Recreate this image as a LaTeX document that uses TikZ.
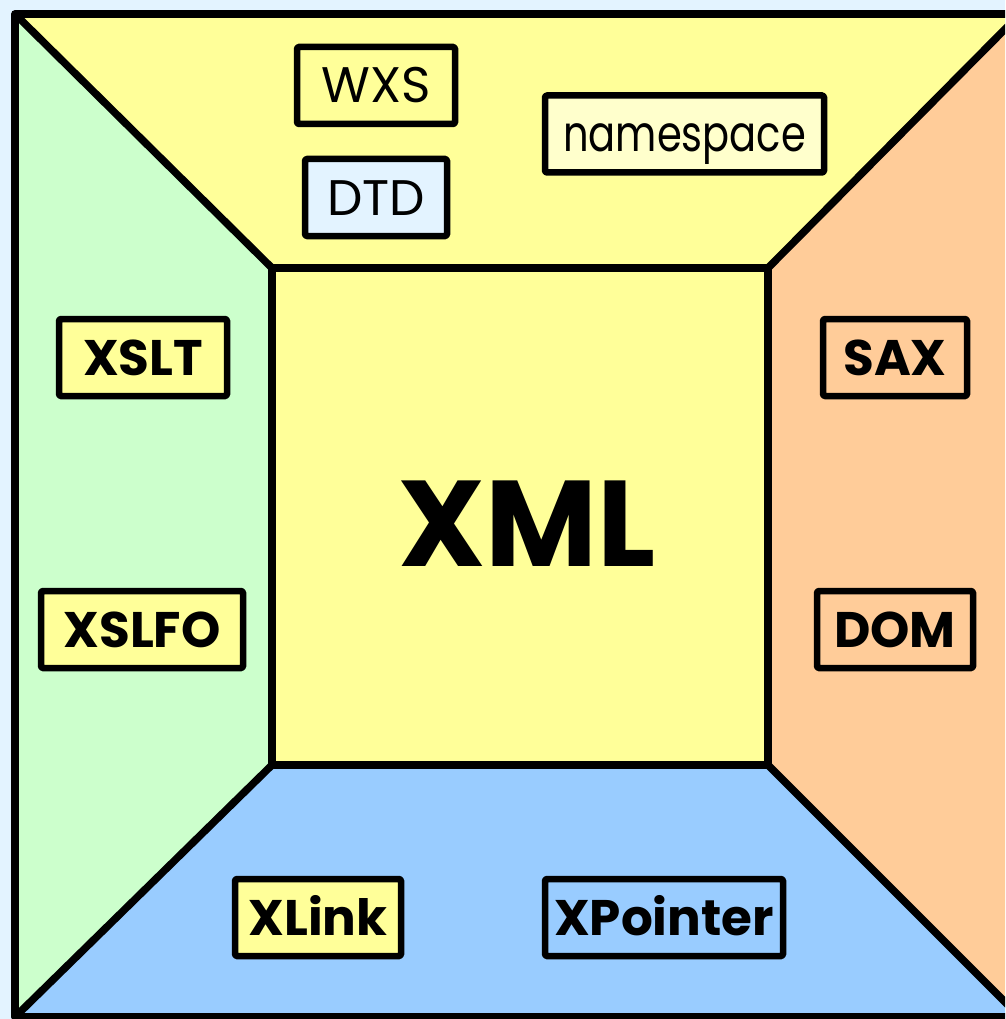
\documentclass[tikz,border=0pt]{standalone}
\usepackage{fontspec}
\setmainfont{Poppins}
\newfontfamily\nsfont[FakeStretch=0.8]{Poppins}
\definecolor{bgblue}{HTML}{E3F3FF}
\definecolor{ylw}{HTML}{FFFF99}
\definecolor{grn}{HTML}{CCFFCC}
\definecolor{org}{HTML}{FFCC99}
\definecolor{blu}{HTML}{99CCFF}
\definecolor{pale}{HTML}{FFFFCC}
\begin{document}
\begin{tikzpicture}[x=1pt,y=-1pt,line join=round,
  region/.style={draw=black,line width=7.5pt},
  tbox/.style={draw=black,line width=6.5pt,rounded corners=1.5pt,inner sep=0pt,minimum height=77pt,text height=35pt,text depth=0pt,font=\fontsize{50}{54}\selectfont},
  bbox/.style={tbox,font=\fontsize{50}{54}\selectfont\bfseries}]
\useasboundingbox (0,0) rectangle (1005,1019);
\fill[bgblue] (0,0) rectangle (1005,1019);
\clip (0,0) rectangle (1005,1019);
% corners
\coordinate (o1) at (15,14);
\coordinate (o2) at (1020,14);
\coordinate (o3) at (1020,1017);
\coordinate (o4) at (15,1017);
\coordinate (i1) at (272,268);
\coordinate (i2) at (768,268);
\coordinate (i3) at (768,765);
\coordinate (i4) at (272,765);
\fill[ylw] (o1) -- (o2) -- (i2) -- (i1) -- cycle;
\fill[org] (o2) -- (o3) -- (i3) -- (i2) -- cycle;
\fill[blu] (o3) -- (o4) -- (i4) -- (i3) -- cycle;
\fill[grn] (o4) -- (o1) -- (i1) -- (i4) -- cycle;
\fill[ylw] (i1) rectangle (i3);
\draw[region] (o1) rectangle (o3);
\draw[region] (i1) rectangle (i3);
\draw[region] (o1) -- (i1) (o2) -- (i2) (o3) -- (i3) (o4) -- (i4);
% boxes
\node[tbox,fill=ylw,minimum width=158pt] (wxs) at (376,85.5) {WXS};
\node[tbox,fill=bgblue,minimum width=142pt] (dtd) at (376,197.5) {DTD};
\node[tbox,fill=pale,minimum width=279pt,font=\fontsize{50}{54}\nsfont] (ns) at (684.5,134) {namespace};
\node[bbox,fill=ylw,minimum width=168pt] (xslt) at (143,357.5) {XSLT};
\node[bbox,fill=ylw,minimum width=202pt] (xslfo) at (142,629.5) {XSLFO};
\node[bbox,fill=org,minimum width=144pt] (sax) at (895,357.5) {SAX};
\node[bbox,fill=org,minimum width=156pt] (dom) at (895,629.5) {DOM};
\node[bbox,fill=ylw,minimum width=166pt] (xlink) at (318,917.5) {XLink};
\node[bbox,fill=blu,minimum width=238pt] (xptr) at (664,917.5) {XPointer};
\node[font=\fontsize{122}{126}\selectfont\bfseries,inner sep=0pt] (xml) at (527,524) {XML};
\end{tikzpicture}
\end{document}
